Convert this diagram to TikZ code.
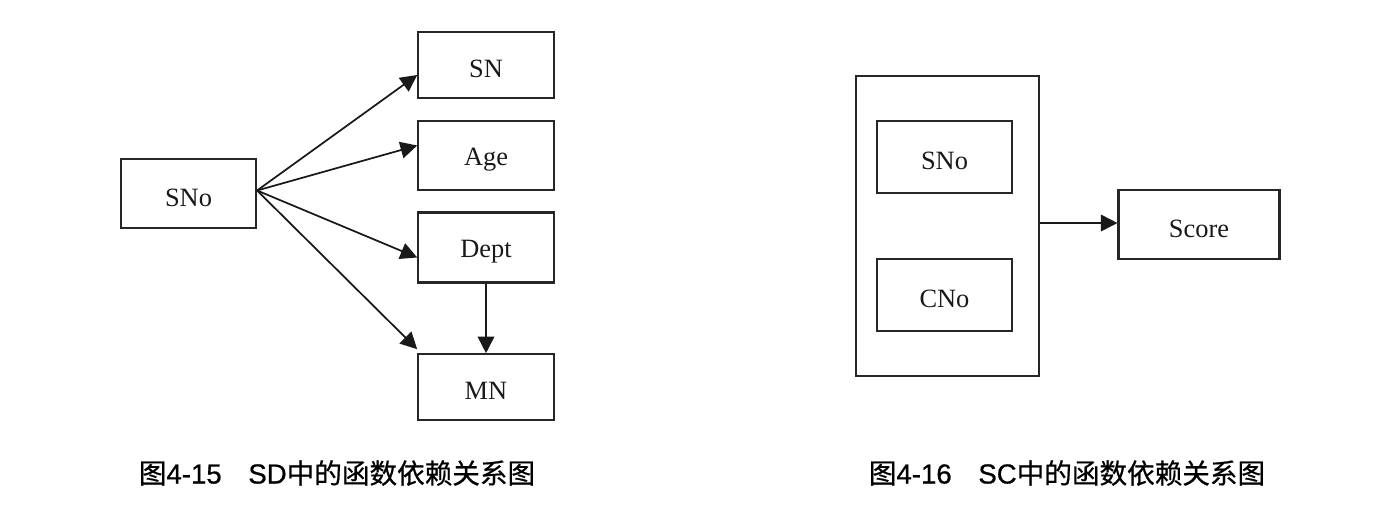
\documentclass[tikz,border=0pt]{standalone}
\usepackage{fontspec}
\setmainfont{Liberation Serif}
\newfontfamily\capfont[FakeBold=0.6]{Liberation Sans}
\newfontfamily\cjk[FakeBold=0.6]{Noto Sans CJK SC}
\usetikzlibrary{arrows.meta,calc}
\newcommand{\lowtxt}[1]{\raisebox{-3pt}[\height][\depth]{#1}}
\begin{document}
\begin{tikzpicture}[x=0.75pt,y=-0.75pt,
  box/.style={draw=black!85, line width=1.6pt, rectangle, inner sep=0pt,
    font=\fontsize{19.8pt}{22pt}\selectfont, text=black!90},
  arr/.style={draw=black!90, line width=1.3pt, -{Triangle[length=12.5pt,width=12.5pt]}},
  captext/.style={font=\fontsize{20.7pt}{24pt}\selectfont, text=black}]
\useasboundingbox (0,0) rectangle (1380,518);
% left diagram
\node[box, minimum width=101.25pt, minimum height=51.75pt] (sno) at (188.5,193.5) {\lowtxt{SNo}};
\node[box, minimum width=101.6pt, minimum height=49.9pt] (sn) at (486,65) {\lowtxt{SN}};
\node[box, minimum width=101.6pt, minimum height=51.75pt] (age) at (486,155.5) {\lowtxt{Age}};
\node[box, minimum width=101.6pt, minimum height=52.5pt] (dept) at (486,247.5) {\lowtxt{Dept}};
\node[box, minimum width=101.6pt, minimum height=49.1pt] (mn) at (486,387) {\lowtxt{MN}};
\coordinate (src) at ($(sno.east)+(0,-3)$);
\draw[arr] (src) -- ($(sn.west)+(0,10)$);
\draw[arr] (src) -- ($(age.west)+(0,-10)$);
\draw[arr] (src) -- ($(dept.west)+(0,10)$);
\draw[arr] (src) -- ($(mn.north west)+(0,-4)$);
\draw[arr] (dept.south) -- (mn.north);
% right diagram
\node[box, minimum width=137.25pt, minimum height=225pt] (outer) at (947.5,226) {};
\node[box, minimum width=101.25pt, minimum height=53.6pt] (sno2) at (944.5,157) {\lowtxt{SNo}};
\node[box, minimum width=101.25pt, minimum height=53.6pt] (cno) at (944.5,295) {\lowtxt{CNo}};
\node[box, minimum width=120.75pt, minimum height=51.75pt] (score) at (1199,224.5) {\lowtxt{Score}};
\coordinate (o) at ($(outer.east)+(0,-3)$);
\draw[arr] (o) -- (o -| score.west);
% captions
\node[captext] (cap1) at (337,473) {{\cjk 图}{\capfont 4-15}\hspace{20pt}{\capfont SD}{\cjk 中的函数依赖关系图}};
\node[captext] (cap2) at (1067,473) {{\cjk 图}{\capfont 4-16}\hspace{20pt}{\capfont SC}{\cjk 中的函数依赖关系图}};
\end{tikzpicture}
\end{document}
